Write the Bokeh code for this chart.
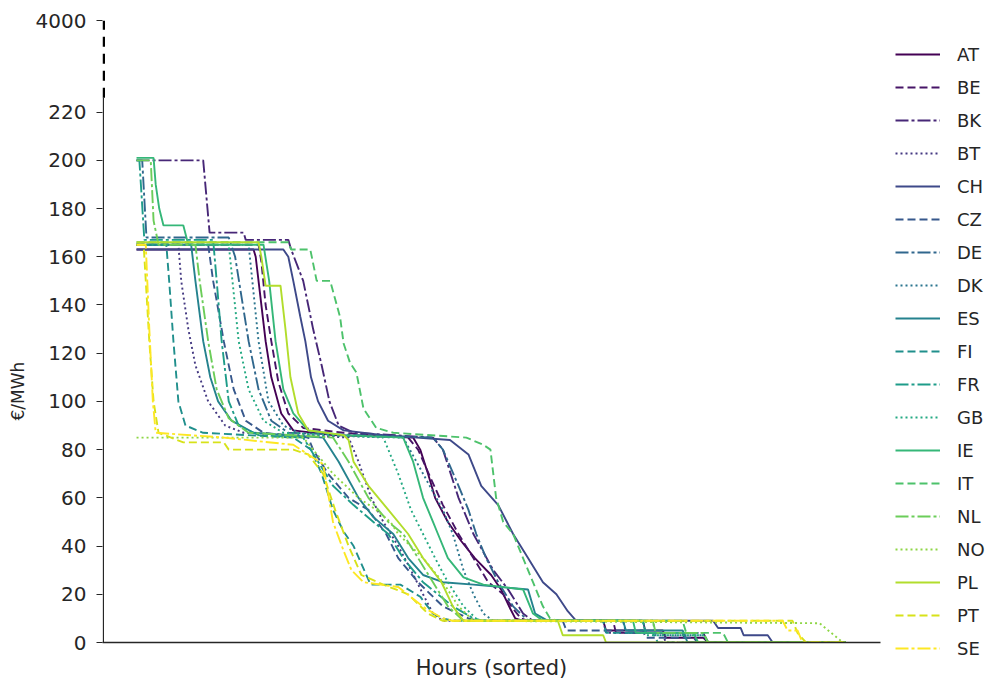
from bokeh.plotting import figure
from bokeh.models import Range1d, FixedTicker, Legend, LegendItem, Arrow, Title
from bokeh.palettes import viridis
from bokeh.embed import file_html
from bokeh.resources import INLINE

# x: share of sorted hours (%), y: price in EUR/MWh
countries = ["AT", "BE", "BK", "BT", "CH", "CZ", "DE", "DK", "ES", "FI",
             "FR", "GB", "IE", "IT", "NL", "NO", "PL", "PT", "SE"]

at_hours = [0, 16.5, 16.8, 17.6, 18.2, 19.0, 20.4, 22.1, 27.7, 39.0, 40.0, 41.1, 42.1, 43.9, 45.8, 47.7, 50.0, 51.4, 52.7, 53.4, 54.5, 65.8, 66.2, 74.2, 74.6, 79.9, 80.6, 100]
at_price = [163, 163, 160, 140, 125, 110, 95, 88, 86, 85, 80, 70, 60, 50, 42, 35, 28, 22, 14, 10, 9, 9, 5, 5, 2, 2, 0, 0]

be_hours = [0, 17.2, 17.6, 18.2, 19.0, 20.0, 21.4, 23.5, 29.2, 38.3, 39.7, 41.5, 43.2, 45.4, 47.5, 49.6, 51.7, 53.1, 54.2, 55.2, 67.2, 67.6, 77.0, 77.5, 100]
be_price = [165, 165, 158, 140, 125, 108, 95, 89, 87, 85, 80, 68, 57, 45, 35, 25, 20, 14, 10, 9, 9, 4, 4, 0, 0]

bk_hours = [0, 9.4, 10.3, 15.1, 15.4, 21.4, 21.8, 23.5, 24.9, 26.1, 27.2, 28.5, 30.6, 41.8, 43.2, 45.4, 47.5, 50.3, 52.4, 54.5, 55.9, 71.4, 71.8, 79.9, 80.6, 100]
bk_price = [200, 200, 170, 170, 167, 167, 163, 150, 130, 115, 100, 90, 87, 85, 80, 60, 45, 30, 22, 12, 9, 9, 4, 4, 0, 0]

bt_hours = [0, 5.9, 6.3, 7.3, 8.3, 10.1, 12.5, 15.1, 29.9, 31.3, 33.1, 34.8, 36.9, 38.7, 40.4, 41.8, 43.2, 65.8, 66.2, 74.2, 74.6, 100]
bt_price = [165, 165, 150, 130, 115, 100, 90, 87, 85, 75, 60, 50, 40, 30, 20, 12, 9, 9, 4, 4, 0, 0]

ch_hours = [0, 20.7, 21.4, 22.1, 23.1, 23.8, 24.6, 25.6, 27.0, 29.2, 34.8, 44.2, 46.8, 48.6, 51.0, 53.1, 55.2, 57.3, 59.2, 60.8, 62.0, 81.3, 82.0, 85.2, 85.6, 89.0, 89.7, 100]
ch_price = [163, 163, 160, 150, 135, 125, 110, 100, 92, 88, 86, 84, 78, 65, 57, 45, 35, 25, 20, 13, 9, 9, 6, 6, 3, 3, 0, 0]

cz_hours = [0, 10.1, 10.8, 12.3, 13.7, 15.4, 17.9, 24.2, 24.9, 27.0, 29.9, 32.7, 35.2, 36.9, 39.7, 43.2, 46.8, 48.2, 60.1, 60.6, 71.4, 71.8, 78.5, 79.2, 100]
cz_price = [165, 165, 150, 125, 105, 92, 87, 85, 80, 70, 60, 55, 45, 35, 25, 15, 10, 9, 9, 5, 5, 2, 2, 0, 0]

de_hours = [0, 0.8, 1.4, 13.0, 13.9, 15.8, 17.2, 19.0, 21.4, 41.8, 43.2, 45.4, 46.8, 47.9, 49.3, 51.0, 53.1, 55.2, 68.6, 69.0, 77.0, 77.7, 100]
de_price = [200, 200, 168, 168, 160, 125, 105, 92, 87, 85, 80, 65, 55, 45, 35, 25, 15, 9, 9, 4, 4, 0, 0]

dk_hours = [0, 15.8, 16.5, 17.2, 18.6, 20.7, 23.5, 37.6, 40.4, 43.2, 44.6, 46.1, 47.5, 48.9, 50.3, 72.8, 73.2, 79.9, 80.6, 100]
dk_price = [165, 165, 145, 125, 100, 90, 86, 85, 70, 55, 45, 30, 20, 12, 9, 9, 3, 3, 0, 0]

es_hours = [0, 7.7, 8.3, 9.4, 10.4, 11.5, 13.4, 16.5, 26.3, 28.5, 31.3, 33.4, 36.2, 38.3, 40.4, 43.2, 47.5, 55.2, 56.2, 58.0, 68.6, 69.0, 77.0, 77.7, 100]
es_price = [165, 165, 150, 125, 110, 100, 92, 87, 85, 75, 60, 52, 45, 35, 28, 25, 24, 22, 12, 9, 9, 5, 5, 0, 0]

fi_hours = [0, 4.2, 4.6, 5.2, 5.9, 6.9, 9.4, 22.1, 24.6, 26.1, 27.7, 29.2, 30.6, 33.0, 37.2, 40.0, 41.8, 43.2, 44.6, 65.8, 66.2, 72.8, 73.5, 100]
fi_price = [165, 165, 150, 125, 100, 90, 87, 85, 80, 70, 55, 46, 40, 24, 24, 19, 12, 10, 9, 9, 4, 4, 0, 0]

fr_hours = [0, 0.4, 1.1, 10.8, 11.3, 12.0, 13.0, 14.4, 17.2, 23.5, 25.6, 27.7, 30.6, 33.4, 35.5, 37.6, 40.4, 44.6, 47.5, 48.9, 71.4, 71.8, 79.9, 80.6, 100]
fr_price = [200, 200, 167, 167, 150, 125, 100, 90, 86, 85, 75, 65, 57, 50, 45, 35, 25, 15, 10, 9, 9, 4, 4, 0, 0]

gb_hours = [0, 13.0, 13.7, 14.4, 15.8, 17.9, 20.7, 34.8, 36.9, 38.7, 40.4, 42.1, 43.9, 46.1, 48.2, 71.4, 71.8, 79.9, 80.6, 100]
gb_price = [165, 165, 145, 125, 105, 92, 87, 85, 70, 55, 45, 35, 25, 15, 9, 9, 3, 3, 0, 0]

ie_hours = [0, 2.4, 2.7, 3.2, 3.8, 6.6, 7.3, 17.9, 18.7, 19.6, 20.7, 22.1, 24.2, 29.2, 37.6, 39.0, 40.4, 41.8, 42.5, 43.9, 46.1, 48.9, 54.5, 55.9, 57.3, 70.0, 70.4, 78.5, 79.2, 100]
ie_price = [201, 201, 190, 180, 173, 173, 165, 165, 150, 125, 105, 95, 88, 86, 85, 75, 60, 50, 45, 35, 27, 24, 22, 12, 9, 9, 4, 4, 0, 0]

it_hours = [0, 21.4, 21.8, 24.5, 25.4, 27.3, 28.7, 29.2, 30.1, 31.0, 32.0, 33.8, 36.2, 46.5, 48.9, 49.9, 50.7, 51.7, 53.1, 54.5, 55.9, 57.3, 58.3, 59.4, 77.0, 77.5, 82.7, 83.4, 100]
it_price = [166, 166, 163, 163, 150, 150, 135, 124, 116, 112, 97, 89, 87, 85, 82, 80, 60, 50, 45, 35, 25, 15, 10, 9, 9, 4, 4, 0, 0]

nl_hours = [0, 2.0, 2.4, 3.1, 8.3, 8.9, 10.1, 11.3, 13.0, 15.8, 27.7, 29.9, 32.7, 35.5, 37.6, 39.7, 41.8, 43.9, 46.1, 72.8, 73.2, 79.9, 80.6, 100]
nl_price = [200, 200, 175, 165, 165, 150, 125, 105, 93, 87, 85, 75, 60, 50, 45, 35, 25, 15, 9, 9, 4, 4, 0, 0]

no_hours = [0, 23.5, 24.9, 27.7, 31.3, 33.8, 35.8, 36.9, 40.4, 43.2, 45.4, 47.5, 96.3, 99.6, 100]
no_price = [85, 85, 80, 70, 60, 55, 50, 45, 35, 25, 15, 9, 8, 0, 0]

pl_hours = [0, 17.2, 17.6, 18.2, 20.3, 21.0, 21.7, 22.8, 24.2, 29.2, 29.9, 30.6, 32.7, 35.5, 38.3, 40.4, 43.0, 44.6, 46.1, 59.4, 60.1, 65.8, 66.2, 100]
pl_price = [166, 166, 160, 148, 148, 130, 110, 95, 88, 86, 84, 75, 65, 55, 45, 35, 25, 15, 9, 9, 3, 3, 0, 0]

pt_hours = [0, 1.0, 1.8, 2.4, 3.1, 6.6, 12.3, 13.0, 22.1, 24.2, 26.3, 28.0, 29.9, 31.7, 34.8, 38.3, 41.1, 43.2, 92.5, 93.2, 94.4, 100]
pt_price = [165, 165, 125, 100, 87, 83, 83, 80, 80, 78, 70, 55, 40, 28, 24, 20, 12, 9, 9, 4, 0, 0]

se_hours = [0, 1.3, 1.8, 2.3, 2.7, 12.3, 22.1, 24.2, 26.3, 27.7, 29.2, 30.3, 32.0, 36.9, 40.8, 43.2, 44.6, 91.1, 91.8, 93.2, 93.9, 100]
se_price = [165, 165, 130, 100, 87, 85, 82, 78, 74, 50, 38, 30, 25, 23, 14, 10, 9, 9, 5, 5, 0, 0]

y_ticks = [0, 20, 40, 60, 80, 100, 120, 140, 160, 180, 200, 220]
break_value = 258          # position of the broken-axis top tick
break_label = "4000"
axis_break_start = 226

series = {
    "AT": (at_hours, at_price), "BE": (be_hours, be_price), "BK": (bk_hours, bk_price),
    "BT": (bt_hours, bt_price), "CH": (ch_hours, ch_price), "CZ": (cz_hours, cz_price),
    "DE": (de_hours, de_price), "DK": (dk_hours, dk_price), "ES": (es_hours, es_price),
    "FI": (fi_hours, fi_price), "FR": (fr_hours, fr_price), "GB": (gb_hours, gb_price),
    "IE": (ie_hours, ie_price), "IT": (it_hours, it_price), "NL": (nl_hours, nl_price),
    "NO": (no_hours, no_price), "PL": (pl_hours, pl_price), "PT": (pt_hours, pt_price),
    "SE": (se_hours, se_price),
}

FONT = "DejaVu Sans"
INK = "#262626"
colors = viridis(len(countries))
dashes = ["solid", "8 4", "13 3 3 3", "2 3"]

X0 = -4.8
p = figure(frame_width=778, frame_height=622,
           x_range=Range1d(X0, 104.9), y_range=Range1d(0, break_value),
           output_backend="svg", toolbar_location=None,
           min_border_left=100, min_border_top=20, min_border_bottom=40, min_border_right=112)
p.grid.visible = False
p.outline_line_color = None
p.background_fill_color = "white"
p.border_fill_color = "white"

items = []
for i, c in enumerate(countries):
    xs, ys = series[c]
    r = p.line(xs, ys, line_color=colors[i], line_width=1.9, line_dash=dashes[i % 4])
    items.append(LegendItem(label=c, renderers=[r]))

ya = p.yaxis[0]
ya.ticker = FixedTicker(ticks=y_ticks + [break_value])
ya.major_label_overrides = {break_value: break_label}
ya.major_label_text_font = FONT
ya.major_label_text_font_size = "20px"
ya.major_label_text_color = INK
ya.major_tick_out = 6
ya.major_tick_in = 0
ya.minor_tick_line_color = None
ya.major_label_standoff = 10
ya.axis_line_color = None
ya.major_tick_line_color = INK

xa = p.xaxis[0]
xa.ticker = FixedTicker(ticks=[])
xa.major_tick_out = 0
xa.major_tick_in = 0
xa.minor_tick_line_color = None
xa.major_label_standoff = 0
xa.axis_label = "Hours (sorted)"
xa.axis_label_text_font = FONT
xa.axis_label_text_font_size = "21px"
xa.axis_label_text_font_style = "normal"
xa.axis_label_text_color = INK
xa.axis_label_standoff = 13
xa.axis_line_color = INK
xa.axis_line_width = 1.3

# y axis spine: solid part and dashed broken part
p.add_layout(Arrow(end=None, x_start=-4.68, y_start=0, x_end=-4.68, y_end=axis_break_start,
                   line_color=INK, line_width=1.3))
p.add_layout(Arrow(end=None, x_start=-4.62, y_start=axis_break_start, x_end=-4.62, y_end=break_value,
                   line_color="black", line_width=2.5, line_dash="10 7"))

ylab = Title(text="€/MWh", align="left", offset=222, text_font=FONT,
             text_font_size="17px", text_font_style="normal", text_color=INK)
p.add_layout(ylab, "left")

legend = Legend(items=items, location=(15, -18), glyph_width=45, glyph_height=24,
                label_height=24, spacing=9, label_standoff=17, padding=7, margin=0,
                border_line_color=None, background_fill_alpha=0,
                label_text_font=FONT, label_text_font_size="18px", label_text_color=INK)
p.add_layout(legend, "right")

open("out.html", "w").write(file_html(p, INLINE))
